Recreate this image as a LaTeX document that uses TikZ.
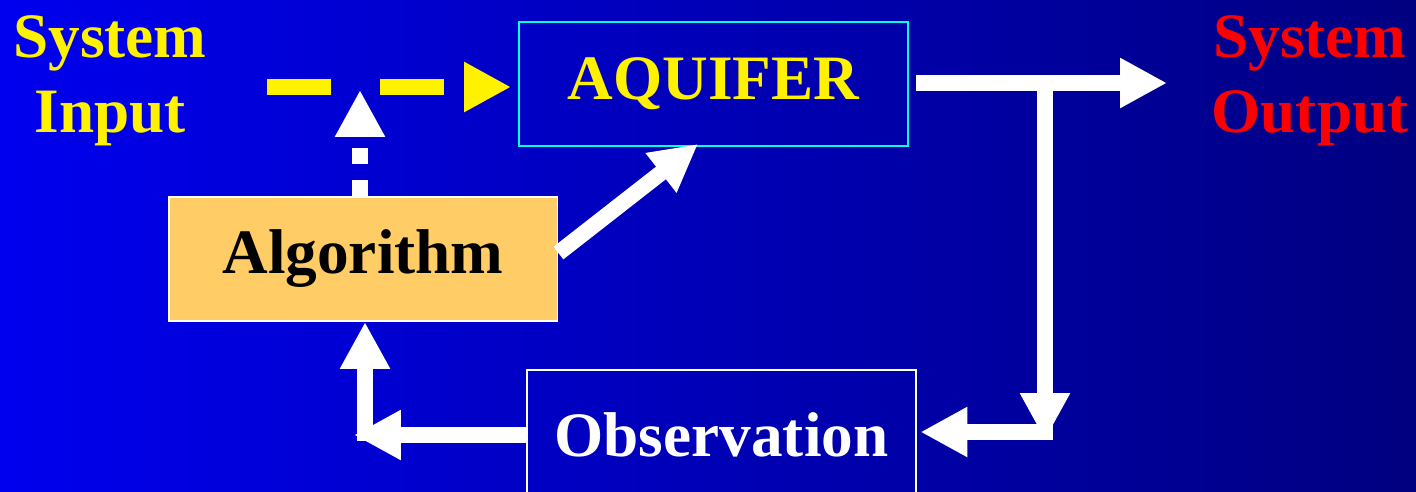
\documentclass[tikz,border=0pt]{standalone}
\usepackage{fontspec}
\setmainfont{Liberation Serif}[BoldFont={Liberation Serif Bold}]
\usetikzlibrary{arrows.meta}
\definecolor{slideleft}{RGB}{0,0,238}
\definecolor{slideright}{RGB}{0,0,128}
\definecolor{algofill}{RGB}{255,204,102}
\definecolor{aquiline}{RGB}{0,255,255}
\tikzset{
  bigtext/.style={font=\bfseries\fontsize{36}{43}\selectfont, align=center, inner sep=0pt},
  box/.style={bigtext, draw, line width=1.1pt, minimum width=7.78cm, minimum height=2.48cm},
  fat/.style={line width=0.32cm, -{Triangle[length=0.94cm, width=0.94cm]}},
}
\begin{document}
\begin{tikzpicture}[x=0.02cm, y=-0.02cm]
  % Slide background
  \shade[left color=slideleft, right color=slideright] (0,0) rectangle (1416,491);
  \useasboundingbox (0,0) rectangle (1416,491);
  % Boxes
  \node[box, draw=aquiline, text=yellow] (aq) at (713.5,84) {AQUIFER};
  \node[box, draw=white, fill=algofill, text=black] (alg) at (363,259) {Algorithm};
  \node[box, draw=white, text=white, minimum height=2.6cm] (obs) at (721.5,435) {Observation};
  % Side texts
  \node[bigtext, text=yellow] (sysin) at (110,81) {System\\Input};
  \node[bigtext, text=red] (sysout) at (1310,81) {System\\Output};
  % Free ends and bends
  \coordinate (dashstart) at (267,87);
  \coordinate (dottip) at (360,90);
  \coordinate (outtip) at (1167,83);
  \coordinate (branch) at (1045,83);
  \coordinate (bend) at (1045,440);
  \coordinate (bendstart) at (1053,432);
  \coordinate (corner) at (354,435);
  \coordinate (cornerstart) at (365,441);
  \coordinate (aqtip) at (698,144);
  % Input, dashed
  \draw[fat, yellow, dash pattern=on 1.28cm off 0.98cm, shorten >=4pt] (dashstart) -- (dashstart -| aq.west);
  % Algorithm acts on the input, dotted
  \draw[fat, white, dash pattern=on 0.32cm off 0.32cm] (alg.north -| dottip) -- (dottip);
  \draw[fat, white] ([yshift=3.4pt]alg.east) -- (aqtip);
  % Output and feedback loop
  \draw[fat, white, shorten <=4pt] (aq.east |- outtip) -- (outtip);
  \draw[fat, white] (branch) -- (bend);
  \draw[fat, white, shorten >=2pt] (bendstart) -- (bendstart -| obs.east);
  \draw[fat, white] (obs.west) -- (corner);
  \draw[fat, white] (cornerstart) -- (cornerstart |- alg.south);
\end{tikzpicture}
\end{document}
